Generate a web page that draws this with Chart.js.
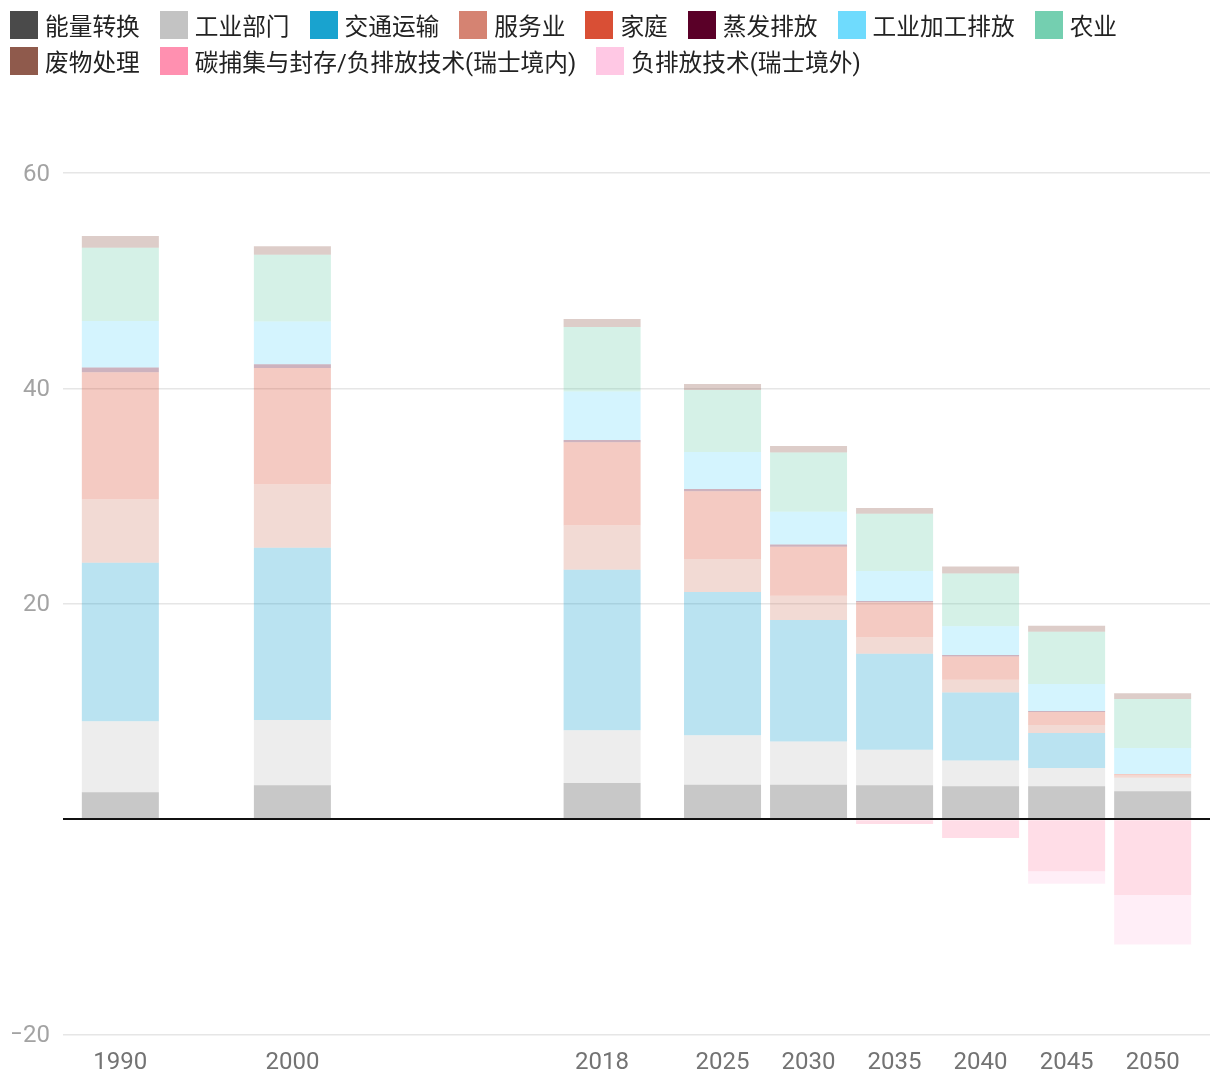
<!DOCTYPE html>
<html>
<head>
<meta charset="utf-8">
<script src="https://cdn.jsdelivr.net/npm/chart.js@4.4.1/dist/chart.umd.min.js"></script>
<style>
  body { margin: 0; background: #fff; }
  #wrap { position: relative; width: 1220px; height: 1092px; }
  #legend {
    position: absolute; left: 10px; top: 11px; width: 1200px;
    display: flex; flex-wrap: wrap; row-gap: 8px;
    font: 23.7px Roboto, "Noto Sans CJK SC", sans-serif; color: #222;
  }
  .item { display: flex; align-items: center; height: 28px; margin-right: 20px; white-space: nowrap; }
  .box { width: 28px; height: 28px; margin-right: 7px; }
</style>
</head>
<body>
<div id="wrap">
  <canvas id="chart" width="1220" height="1092"></canvas>
  <div id="legend"></div>
</div>
<script>
// years on a linear axis, so the gaps stay proportional
const years = [1990, 2000, 2018, 2025, 2030, 2035, 2040, 2045, 2050];

const seriesNames = ["能量转换", "工业部门", "交通运输", "服务业", "家庭", "蒸发排放",
  "工业加工排放", "农业", "废物处理", "碳捕集与封存/负排放技术(瑞士境内)", "负排放技术(瑞士境外)"];
const seriesColors = ["#4a4a4a", "#c3c3c3", "#19a3cf", "#d58372", "#d94f35", "#5a0028",
  "#6fdbfd", "#74cfb0", "#8f5a4c", "#ff90b0", "#ffc8e4"];

// Mt CO2-eq per sector
const energy     = [2.5, 3.15, 3.35, 3.2, 3.2, 3.15, 3.05, 3.05, 2.6];
const industry   = [6.6, 6.05, 4.9, 4.6, 4.0, 3.3, 2.4, 1.7, 1.25];
const transport  = [14.7, 16.0, 14.9, 13.3, 11.3, 8.9, 6.3, 3.25, 0];
const services   = [5.9, 5.9, 4.15, 3.05, 2.25, 1.55, 1.2, 0.75, 0.2];
const households = [11.8, 10.8, 7.7, 6.3, 4.55, 3.25, 2.15, 1.2, 0.15];
const evaporation = [0.45, 0.35, 0.2, 0.2, 0.2, 0.1, 0.15, 0.1, 0];
const processes  = [4.3, 3.95, 4.5, 3.45, 3.05, 2.8, 2.65, 2.5, 2.4];
const agriculture = [6.8, 6.2, 6.0, 5.75, 5.5, 5.3, 4.9, 4.85, 4.55];
const waste      = [1.1, 0.8, 0.75, 0.55, 0.6, 0.55, 0.65, 0.55, 0.55];
const ccsDomestic = [0, 0, 0, 0, 0, -0.45, -1.75, -4.85, -7.05];
const netAbroad  = [0, 0, 0, 0, 0, 0, 0, -1.15, -4.6];

const seriesValues = [energy, industry, transport, services, households, evaporation,
  processes, agriculture, waste, ccsDomestic, netAbroad];

const yTicks = [-20, 0, 20, 40, 60];

function fade(hex, a) {
  const n = parseInt(hex.slice(1), 16);
  return `rgba(${n >> 16}, ${(n >> 8) & 255}, ${n & 255}, ${a})`;
}

// html legend
const legendEl = document.getElementById("legend");
legendEl.innerHTML = seriesNames.map((name, i) =>
  `<div class="item"><span class="box" style="background:${seriesColors[i]}"></span>${name}</div>`
).join("");

const datasets = seriesNames.map((name, i) => ({
  label: name,
  data: years.map((yr, j) => ({ x: yr, y: seriesValues[i][j] })),
  backgroundColor: fade(seriesColors[i], 0.3),
  borderWidth: 0,
  inflateAmount: 0,
  barThickness: 77
}));

new Chart(document.getElementById("chart"), {
  type: "bar",
  data: { datasets },
  options: {
    responsive: false,
    animation: false,
    layout: { padding: { top: 173, left: 12, right: 10, bottom: 0 } },
    plugins: { legend: { display: false }, tooltip: { enabled: false } },
    scales: {
      x: {
        type: "linear",
        stacked: true,
        offset: false,
        min: 1990 - 10 / 3,
        max: 2050 + 10 / 3,
        afterBuildTicks: s => { s.ticks = years.map(v => ({ value: v })); },
        afterFit: s => { s.height = 57.5; },
        grid: { display: false },
        border: { display: false },
        ticks: {
          autoSkip: false, maxRotation: 0, padding: 6,
          color: "#737373",
          font: { family: "Roboto", size: 24 },
          callback: v => String(v)
        }
      },
      y: {
        stacked: true,
        min: yTicks[0],
        max: yTicks[yTicks.length - 1],
        afterBuildTicks: s => { s.ticks = yTicks.map(v => ({ value: v })); },
        afterFit: s => { s.width = 51; },
        border: { display: false },
        grid: {
          drawTicks: false,
          color: ctx => ctx.tick.value === 0 ? "#111" : "#e6e6e6",
          lineWidth: ctx => ctx.tick.value === 0 ? 2 : 1.5
        },
        ticks: {
          padding: 13,
          labelOffset: 1.5,
          color: "#a3a3a3",
          font: { family: "Roboto", size: 24 },
          callback: v => v === 0 ? "" : (v < 0 ? "\u2013" + Math.abs(v) : String(v))
        }
      }
    }
  }
});
</script>
</body>
</html>
